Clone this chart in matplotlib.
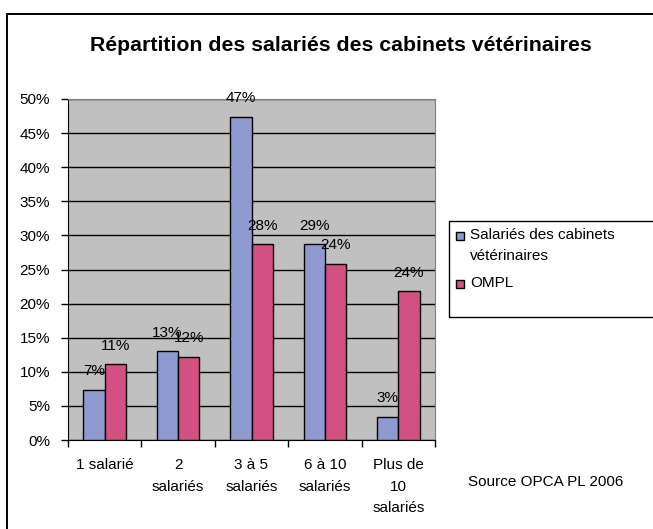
import matplotlib.pyplot as plt
from matplotlib.patches import Rectangle
from matplotlib.lines import Line2D
import numpy as np

plt.rcParams['font.family'] = ['Liberation Sans', 'DejaVu Sans']

categories = ["1 salarié", "2\nsalariés", "3 à 5\nsalariés", "6 à 10\nsalariés", "Plus de\n10\nsalariés"]
series_names = ["Salariés des cabinets\nvétérinaires", "OMPL"]
salaries = [7.3, 13.0, 47.4, 28.7, 3.4]
ompl = [11.1, 12.2, 28.7, 25.8, 21.8]
# labels as printed on the chart
salaries_labels = ["7%", "13%", "47%", "29%", "3%"]
ompl_labels = ["11%", "12%", "28%", "24%", "24%"]
colors = ["#8F9BD0", "#D35082"]

W, H = 653, 529
fig = plt.figure(figsize=(W / 100, H / 100), dpi=100)

def fx(px):
    return px / W

def fy(py):
    return 1 - py / H

ax = fig.add_axes([fx(68), fy(440), fx(435) - fx(68), fy(99) - fy(440)])
ax.set_facecolor("#C0C0C0")

x = np.arange(len(categories))
bw = 0.29
b1 = ax.bar(x - bw / 2, salaries, bw, color=colors[0], edgecolor="black", linewidth=1, zorder=3)
b2 = ax.bar(x + bw / 2, ompl, bw, color=colors[1], edgecolor="black", linewidth=1, zorder=3)

for bars, labs in [(b1, salaries_labels), (b2, ompl_labels)]:
    for b, lab in zip(bars, labs):
        ax.annotate(lab, (b.get_x() + b.get_width() / 2, b.get_height()),
                    xytext=(0, 13.5), textcoords="offset points",
                    ha="center", va="center", fontsize=11, zorder=4, annotation_clip=False)

ax.set_xlim(-0.5, len(categories) - 0.5)
ax.set_ylim(0, 50)
ax.set_yticks(np.arange(0, 51, 5))
ax.set_yticklabels([f"{v}%" for v in range(0, 51, 5)], fontsize=11)
ax.yaxis.grid(True, color="black", linewidth=1, zorder=1)
ax.set_axisbelow(True)

ax.set_xticks(x)
ax.set_xticklabels(categories, fontsize=11, linespacing=1.7, va="top")
ax.set_xticks(np.arange(-0.5, len(categories), 1), minor=True)
ax.tick_params(axis="x", which="major", length=0, pad=13)
ax.tick_params(axis="x", which="minor", length=5, width=1, direction="out")
ax.tick_params(axis="y", length=5, width=1, direction="out", pad=8)

ax.spines["top"].set_color("#808080")
ax.spines["right"].set_color("#808080")
for s in ["left", "bottom"]:
    ax.spines[s].set_color("black")

fig.text(fx(341), fy(46), "Répartition des salariés des cabinets vétérinaires",
         ha="center", va="center", fontsize=15.3, fontweight="bold")

# outer frame (cropped on right and bottom)
fig.add_artist(Line2D([fx(6.5), fx(6.5)], [fy(14), 0], color="black", linewidth=1.4,
                      transform=fig.transFigure))
fig.add_artist(Line2D([fx(6.5), 1], [fy(14), fy(14)], color="black", linewidth=1.4,
                      transform=fig.transFigure))

# legend box
fig.add_artist(Rectangle((fx(449), fy(317)), fx(660) - fx(449), fy(221) - fy(317),
                         transform=fig.transFigure, facecolor="white", edgecolor="black",
                         linewidth=1))
for i, (name, col, ly) in enumerate(zip(series_names, colors, [236, 284])):
    fig.add_artist(Rectangle((fx(456), fy(ly + 4)), fx(464) - fx(456), fy(ly - 4) - fy(ly + 4),
                             transform=fig.transFigure, facecolor=col, edgecolor="black",
                             linewidth=1))
    fig.text(fx(470), fy(ly - 8), name, ha="left", va="top", fontsize=11, linespacing=1.6)

fig.text(fx(468), fy(482), "Source OPCA PL 2006", ha="left", va="center", fontsize=11)

fig.savefig("out.png", dpi=100)
